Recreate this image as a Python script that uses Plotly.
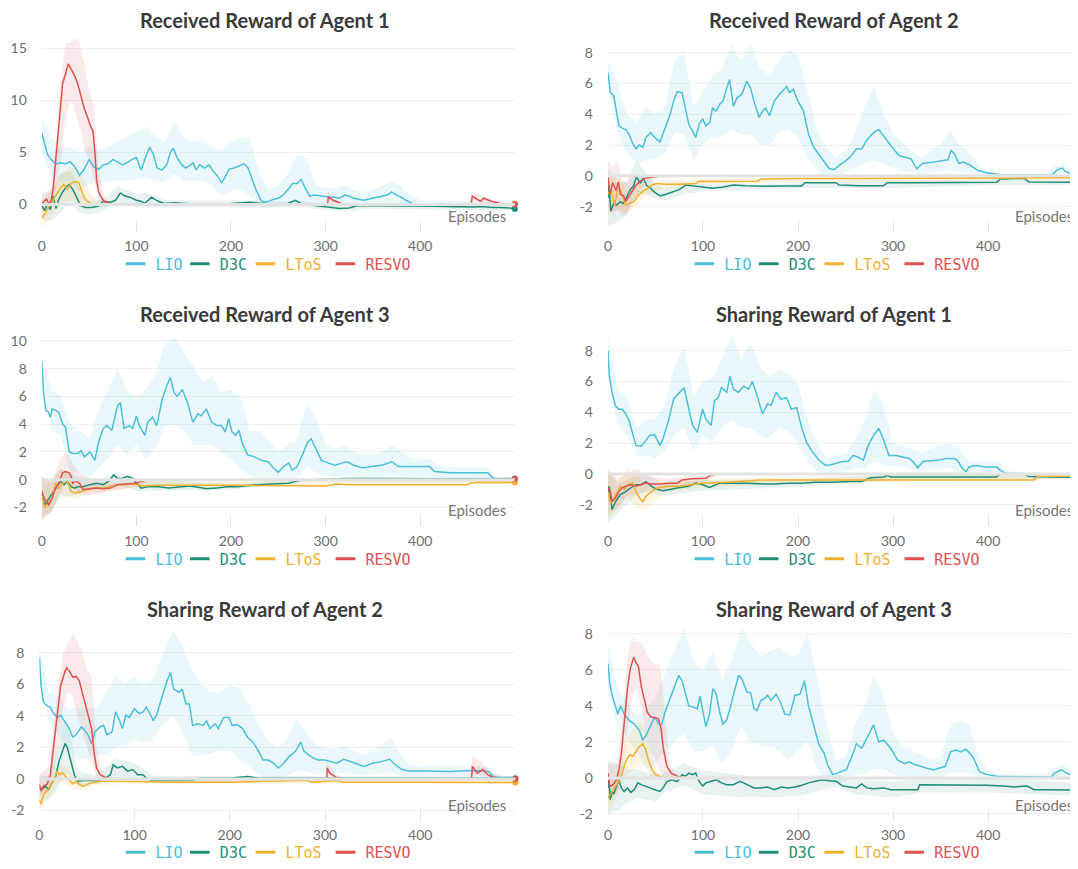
import plotly.graph_objects as go

W, H = 1078, 869
OFF = 8                      # default page margin of the html body
FW, FH = W - OFF, H - OFF    # figure size so that it fills the window exactly

SERIES = ["LIO", "D3C", "LToS", "RESVO"]
LINE_COLORS = ["#4cbfd9", "#1e8e78", "#efb12f", "#e05151"]
BAND_COLORS = ["rgba(76,191,217,0.11)", "rgba(30,142,120,0.10)",
               "rgba(239,177,47,0.14)", "rgba(224,81,81,0.12)"]
LEGEND_WIDTHS = [19.4, 20.6, 35, 45]
TITLES = ["Received Reward of Agent 1", "Received Reward of Agent 2",
          "Received Reward of Agent 3", "Sharing Reward of Agent 1",
          "Sharing Reward of Agent 2", "Sharing Reward of Agent 3"]
X_TICKS = [0, 100, 200, 300, 400]
Y_TICKS = [[0, 5, 10, 15], [-2, 0, 2, 4, 6, 8], [-2, 0, 2, 4, 6, 8, 10],
           [-2, 0, 2, 4, 6, 8], [-2, 0, 2, 4, 6, 8], [-2, 0, 2, 4, 6, 8]]
EP10 = list(range(0, 501, 10))

# ---------------- Panel 1: Received Reward of Agent 1 ----------------
P1_LIO = [(0,6.9),(3,5.8),(6,4.8),(10,4.3),(15,3.9),(20,4.0),(25,3.9),(30,4.1),(35,3.6),(40,2.8),(45,3.4),(50,4.3),(55,3.6),(60,3.4),(65,3.8),(70,3.9),(75,4.3),(80,4.1),(85,3.8),(90,4.0),(95,4.3),(100,4.5),(105,3.3),(110,4.6),(114,5.5),(118,4.8),(122,3.5),(127,3.3),(132,3.8),(136,5.0),(139,5.4),(143,4.5),(148,3.8),(152,3.5),(156,3.7),(160,4.0),(163,3.3),(167,3.8),(172,3.5),(177,3.8),(181,3.2),(186,2.7),(190,2.1),(193,2.5),(198,3.4),(203,3.5),(208,3.7),(214,3.9),(218,3.5),(222,2.5),(226,1.5),(231,0.5),(235,0.2),(240,0.3),(245,0.5),(250,0.6),(255,0.9),(260,1.4),(265,2.0),(270,2.0),(274,2.4),(279,1.5),(283,0.8),(288,0.9),(295,0.8),(300,0.8),(305,0.7),(310,0.7),(315,0.6),(320,0.9),(325,0.8),(330,0.6),(335,0.5),(340,0.4),(345,0.5),(350,0.6),(355,0.7),(365,0.9),(370,1.2),(375,0.9),(380,0.7),(385,0.4),(392,0.1),(400,0.05),(450,0.05),(500,0.05)]
P1_LIO_HI = [8.5,6.5,5.5,5.5,5.0,5.6,5.2,5.5,6.0,6.5,7.0,7.5,6.5,6.0,8.0,6.5,6.0,6.3,5.5,5.2,6.0,6.5,6.3,3.0,1.5,1.8,3.0,4.8,4.5,1.8,1.6,1.5,1.8,1.4,1.2,1.4,1.8,2.2,1.7,0.9,0.4,0.3,0.3,0.3,0.3,0.3,0.3,0.3,0.3,0.3,0.3]
P1_LIO_LO = [5.0,2.8,2.2,2.3,1.3,2.0,2.0,2.2,2.3,2.3,2.4,2.6,2.2,2.2,3.0,2.2,2.3,2.2,1.8,0.8,1.3,1.5,0.8,-0.2,-0.3,-0.2,0.0,0.3,0.0,0.0,-0.1,0.0,0.0,0.0,0.0,0.0,0.0,0.0,0.0,-0.2,-0.2,-0.2,-0.2,-0.2,-0.2,-0.2,-0.2,-0.2,-0.2,-0.2,-0.2]
P1_D3C = [(0,-0.1),(3,-0.6),(6,0.1),(9,-0.5),(12,0.8),(15,-0.4),(18,0.5),(22,1.2),(26,1.7),(29,1.9),(33,1.4),(37,0.7),(41,-0.1),(46,-0.3),(53,-0.3),(60,-0.15),(65,0.3),(72,0.2),(78,0.4),(83,1.1),(88,0.8),(93,0.7),(100,0.4),(105,0.3),(109,0.1),(116,0.7),(123,0.3),(130,0.1),(140,0.15),(160,0.05),(180,0.05),(200,0.1),(220,0.2),(240,0.05),(260,0.1),(268,0.4),(275,0.05),(285,-0.05),(295,-0.15),(305,-0.3),(315,-0.4),(325,-0.35),(332,-0.15),(340,-0.1),(360,-0.15),(380,-0.15),(400,-0.15),(420,-0.2),(440,-0.2),(455,-0.25),(465,-0.2),(475,-0.3),(485,-0.3),(495,-0.35),(500,-0.45)]
P1_D3C_BAND = [(0,-1.5,1.0),(10,-1.6,1.5),(20,-0.8,3.0),(30,0.3,3.2),(40,-0.8,1.5),(50,-1.0,0.3),(60,-0.8,0.4),(70,-0.3,0.8),(80,0.2,1.8),(90,0.0,1.4),(100,-0.3,1.0),(110,-0.3,1.1),(120,-0.3,0.8),(130,-0.3,0.4),(200,-0.3,0.4),(280,-0.3,0.3),(300,-0.5,0.0),(330,-0.6,-0.1),(340,-0.4,0.1),(500,-0.6,-0.2)]
P1_LTOS = [(0,-1.3),(4,-0.8),(8,-0.1),(12,0.5),(16,1.0),(20,1.6),(23,1.9),(27,1.5),(31,2.0),(35,2.2),(39,2.1),(42,1.4),(45,0.6),(48,0.3),(52,0.1),(56,0.05),(60,0.0),(490,0.0),(500,0.1)]
P1_LTOS_BAND = [(0,-2.2,0.0),(10,-1.2,1.0),(20,0.2,3.0),(30,0.3,3.6),(40,0.3,3.4),(50,-0.3,1.2),(60,-0.2,0.3),(100,-0.1,0.1),(500,-0.1,0.1)]
P1_RESVO = [(0,0.1),(3,0.3),(5,0.5),(8,0.0),(10,0.4),(12,1.5),(14,3.5),(16,5.5),(18,7.4),(20,9.5),(22,11.6),(25,12.5),(28,13.5),(31,13.0),(34,12.5),(38,11.6),(42,10.3),(45,9.2),(49,8.2),(52,7.4),(54,7.1),(56,5.2),(58,2.3),(60,1.3),(62,0.8),(66,0.3),(72,0.1),(80,0.0),(302,0.0),(303,0.7),(308,0.4),(313,0.2),(319,0.0),(454,0.0),(455,0.8),(460,0.5),(464,0.3),(466,0.5),(467,0.6),(475,0.3),(485,0.1),(495,0.0),(500,0.0)]
P1_RESVO_BAND = [(0,-0.5,0.5),(10,-0.5,1.5),(15,1.5,6.0),(20,4.0,12.0),(25,8.0,15.5),(30,10.0,15.5),(35,9.0,16.0),(40,7.5,15.5),(45,5.5,13.5),(50,4.0,11.0),(55,2.5,9.5),(60,0.3,3.5),(65,0.0,1.0),(70,0.0,0.3),(80,0.0,0.1),(300,0.0,0.05),(303,0.3,1.2),(312,0.05,0.5),(320,0.0,0.05),(452,0.0,0.05),(455,0.4,1.3),(465,0.2,0.9),(475,0.0,0.5),(490,0.0,0.05),(500,0.0,0.05)]

# ---------------- Panel 2: Received Reward of Agent 2 ----------------
P2_LIO = [(0,6.7),(2.5,5.4),(6,5.2),(10,3.8),(11.5,3.25),(15,3.1),(18.7,3.0),(22,2.7),(26,2.1),(29.5,1.75),(33,2.0),(36.7,1.85),(40,2.5),(45,2.8),(49,2.5),(54.7,2.2),(60,3.1),(65.5,4.0),(69,4.85),(72.7,5.45),(78,5.4),(81.7,4.4),(85,3.35),(89,2.9),(92.4,2.5),(96,3.35),(99.6,3.7),(103,3.25),(107,3.45),(110,4.4),(114,4.2),(117.6,4.65),(121,4.85),(125,5.7),(128,6.25),(132,4.5),(135.6,5.05),(141,5.3),(146,6.15),(150,5.7),(153.6,4.85),(159,3.8),(162.6,4.2),(166,4.4),(170,3.9),(175,4.85),(180.6,5.3),(188,5.8),(191,5.4),(195,5.6),(200,4.85),(205.8,4.2),(211,2.7),(216.5,1.85),(222,1.4),(227,1.0),(232.7,0.47),(238,0.4),(243.5,0.7),(250.7,1.0),(256,1.3),(261.5,1.75),(267,1.75),(272,2.3),(279.5,2.8),(285,3.0),(288.5,2.7),(294,2.2),(299,1.85),(306.5,1.3),(312,1.2),(319,1.1),(325,0.45),(331,0.8),(343,0.9),(353,1.0),(358,1.05),(361,1.65),(365,1.4),(369,0.8),(374,0.9),(381,0.7),(389,0.36),(398,0.2),(405,0.12),(415,0.05),(440,0.05),(465,0.05),(468,0.1),(473,0.4),(478,0.5),(481,0.3),(486,0.15),(492,0.1),(500,0.05)]
P2_LIO_HI = [7.5,6.0,4.0,3.5,4.5,4.0,4.5,7.5,8.0,4.5,5.5,6.5,7.0,8.5,7.5,8.5,7.0,6.5,7.5,8.2,7.8,5.5,3.0,1.8,1.2,1.6,2.8,4.5,5.8,4.0,2.8,2.2,1.6,1.2,1.7,2.0,3.0,2.0,1.5,0.7,0.3,0.15,0.1,0.1,0.1,0.1,0.1,0.6,0.8,0.2,0.1]
P2_LIO_LO = [6.0,2.8,1.5,0.8,1.0,1.1,1.5,2.8,2.7,1.0,2.0,2.5,2.5,3.0,2.7,2.6,2.0,2.0,2.8,3.0,2.5,1.2,0.4,-0.1,-0.2,0.2,0.5,0.8,1.0,0.8,0.5,0.3,0.2,0.0,0.2,0.3,0.4,0.2,0.2,0.0,-0.1,-0.1,-0.1,-0.1,-0.1,-0.1,-0.1,0.0,0.2,-0.1,-0.1]
P2_D3C = [(0,-1.45),(1,-0.6),(3,-2.3),(6,-1.8),(9,-1.9),(13,-1.7),(16.5,-1.8),(20,-1.35),(23.5,-0.9),(27,-0.65),(30,-0.05),(34,-0.5),(37,-0.15),(41,-0.65),(44,-0.75),(49.5,-1.1),(55,-1.3),(61,-1.2),(67,-1.05),(75,-0.9),(82,-0.6),(88,-0.65),(96,-0.7),(103,-0.75),(110,-0.8),(120,-0.75),(132,-0.6),(145,-0.65),(165,-0.68),(185,-0.66),(204,-0.66),(207,-0.45),(225,-0.45),(240,-0.45),(243,-0.6),(265,-0.65),(290,-0.65),(294,-0.45),(320,-0.45),(350,-0.44),(380,-0.43),(409,-0.42),(413,-0.2),(425,-0.17),(438,-0.17),(443,-0.4),(460,-0.42),(480,-0.42),(500,-0.42)]
P2_D3C_BAND = [(0,-3.3,0.5),(10,-3.0,-0.5),(20,-2.6,-0.3),(30,-1.2,1.0),(40,-1.2,0.2),(50,-1.5,-0.6),(60,-1.6,-0.8),(80,-1.2,-0.5),(100,-1.0,-0.5),(200,-0.8,-0.5),(300,-0.8,-0.3),(400,-0.6,-0.25),(500,-0.6,-0.25)]
P2_LTOS = [(0,-1.2),(3,-0.9),(7,-1.9),(10,-1.0),(13,-0.9),(18.5,-1.9),(22,-1.8),(27,-1.7),(32,-1.25),(37,-1.0),(42.5,-0.8),(46,-0.6),(51,-0.5),(61,-0.55),(75,-0.55),(92,-0.5),(96,-0.35),(120,-0.37),(157,-0.35),(161,-0.2),(200,-0.18),(300,-0.17),(350,-0.14),(400,-0.13),(500,-0.13)]
P2_LTOS_BAND = [(0,-2.5,0.0),(10,-2.2,0.0),(20,-2.4,-1.0),(30,-2.0,-0.6),(40,-1.3,-0.4),(60,-0.8,-0.3),(100,-0.5,-0.2),(500,-0.25,-0.05)]
P2_RESVO = [(0,0.0),(2,-1.2),(5,-0.45),(8.5,-0.95),(11,-0.4),(13,-1.2),(16.5,-1.3),(18.5,-1.65),(22,-1.35),(25.5,-0.95),(29,-0.65),(34,-0.35),(39.5,-0.15),(48,-0.07),(58,0.0),(500,0.0)]
P2_RESVO_BAND = [(0,-1.0,1.0),(5,-2.5,0.5),(10,-2.2,1.0),(15,-2.6,-0.3),(20,-2.4,-0.5),(25,-1.8,0.0),(30,-1.3,0.0),(40,-0.5,0.1),(50,-0.2,0.1),(58,-0.05,0.05)]

# ---------------- Panel 3: Received Reward of Agent 3 ----------------
P3_LIO = [(0,8.5),(1.8,6.3),(4.4,5.0),(7.3,4.85),(9,4.5),(11,5.1),(14.5,5.0),(18,4.85),(22,4.0),(25,3.8),(29,2.0),(32.6,1.9),(38,1.9),(41.7,2.1),(45,1.65),(51,2.0),(56,1.4),(60,2.7),(65,3.7),(69,3.9),(74,3.55),(80,5.3),(83,5.55),(87,3.7),(92.5,3.9),(96,3.7),(100,4.6),(103,3.9),(109,3.2),(112,4.15),(117,4.5),(121.5,3.9),(127,5.7),(132,6.75),(136,7.35),(139.6,6.3),(143,6.0),(148.7,6.5),(154,5.55),(159.6,4.15),(165,4.75),(168.6,4.6),(174,5.1),(179.5,4.15),(185,3.9),(190,3.9),(194,3.45),(197.6,4.4),(201,3.45),(205,3.2),(208.5,3.55),(212,2.6),(217.6,1.8),(225,1.65),(232,1.4),(239,1.3),(245,0.85),(250,0.55),(255.6,0.95),(261,1.2),(264.7,0.7),(270,0.95),(275.6,1.8),(281,2.7),(284.7,2.95),(290,2.25),(295.6,1.4),(303,1.2),(310,1.05),(317,1.2),(322.7,1.3),(330,1.05),(339,0.85),(348,0.95),(359,1.05),(370,1.3),(377,0.95),(388,0.95),(399,0.95),(410,0.95),(415,0.6),(431.6,0.5),(450,0.5),(471.5,0.5),(475,0.25),(478.7,0.07),(490,0.05),(500,0.05)]
P3_LIO_HI = [9.0,6.5,6.0,4.0,3.5,3.0,5.0,6.5,8.0,6.5,6.0,6.5,7.5,9.8,10.3,9.2,8.2,7.0,7.5,6.3,6.5,6.0,3.5,3.5,2.8,2.0,2.5,3.0,5.5,4.5,2.5,2.2,2.5,2.0,1.8,1.8,2.0,2.5,2.0,1.6,1.5,1.5,1.0,0.9,0.9,0.9,0.9,0.9,0.2,0.1,0.1]
P3_LIO_LO = [7.5,3.5,3.2,0.5,0.5,0.2,0.8,1.5,2.5,1.8,2.5,1.5,2.2,3.8,4.0,3.5,2.5,2.5,2.5,2.0,1.5,0.8,0.3,0.0,-0.1,-0.1,0.0,0.0,1.0,0.5,0.3,0.2,0.3,0.2,0.1,0.2,0.2,0.3,0.2,0.2,0.2,0.2,0.1,0.05,0.05,0.05,0.05,0.05,-0.05,-0.05,-0.05]
P3_D3C = [(0,-0.85),(3,-1.8),(5.4,-1.55),(9,-1.2),(12.7,-0.85),(16,-0.5),(20,-0.1),(23.6,-0.35),(27,-0.1),(31,-0.5),(34.5,-0.6),(38,-0.5),(43.5,-0.5),(51,-0.35),(58,-0.25),(65,-0.35),(70.7,-0.1),(76,0.35),(80,0.1),(85,0.1),(90.7,0.25),(96,0.1),(100,-0.25),(105,-0.6),(112,-0.5),(123,-0.5),(134,-0.6),(145,-0.5),(156,-0.45),(167,-0.55),(174,-0.65),(185,-0.6),(196,-0.5),(207,-0.5),(217.6,-0.4),(228.5,-0.35),(243,-0.3),(261,-0.25),(268,-0.1),(275.6,-0.02),(286.5,0.0),(320,0.1),(370,0.1),(420,0.05),(470,0.05),(500,0.1)]
P3_D3C_BAND = [(0,-2.8,0.2),(10,-2.3,0.0),(20,-1.2,0.8),(30,-1.2,0.5),(40,-1.0,0.2),(60,-0.6,0.0),(80,-0.3,0.6),(100,-0.8,0.1),(200,-0.7,-0.3),(280,-0.15,0.1),(500,-0.1,0.2)]
P3_LTOS = [(0,-1.05),(3,-2.0),(5.4,-1.8),(11,-1.3),(14.5,-0.25),(18,-0.6),(22,-0.25),(27,-0.1),(31,-0.85),(36,-0.95),(41.7,-0.85),(47,-0.7),(54,-0.6),(65,-0.6),(80,-0.35),(100,-0.3),(105,-0.45),(123,-0.4),(200,-0.4),(279,-0.4),(286,-0.45),(300,-0.45),(312,-0.3),(323,-0.35),(400,-0.35),(450,-0.35),(453,-0.25),(460,-0.17),(500,-0.2)]
P3_LTOS_BAND = [(0,-2.6,0.2),(10,-2.4,-0.2),(20,-1.0,0.8),(30,-1.3,0.5),(40,-1.3,-0.4),(60,-0.9,-0.3),(100,-0.5,-0.15),(500,-0.3,-0.05)]
P3_RESVO = [(0,-0.85),(3,-1.4),(7.3,-1.8),(11,-1.3),(14.5,-0.6),(18,-0.25),(22,0.5),(25,0.6),(29,0.5),(31,0.25),(32.6,-0.25),(36,-0.1),(40,-0.25),(43.5,-0.7),(51,-0.65),(58,-0.6),(65,-0.65),(72.5,-0.6),(80,-0.35),(90.7,-0.3),(100,-0.25),(105,-0.1),(112,0.0),(490,0.0),(500,0.05)]
P3_RESVO_BAND = [(0,-2.9,0.2),(10,-2.3,-0.2),(20,-0.8,1.5),(25,-0.3,2.0),(30,-0.3,1.5),(40,-1.0,0.5),(60,-1.0,-0.2),(100,-0.5,-0.1),(115,-0.1,0.1)]

# ---------------- Panel 4: Sharing Reward of Agent 1 ----------------
P4_LIO = [(0,8.0),(1.4,6.35),(4.3,5.3),(8,4.4),(11.5,4.2),(15,4.2),(18.7,3.9),(22.3,3.45),(26,2.6),(29.5,1.85),(35,1.8),(38.5,2.05),(44,2.5),(49,2.55),(54.7,1.85),(58,2.3),(63.7,3.45),(69,4.85),(74.5,5.2),(80,5.6),(83.5,4.65),(89,3.15),(94,2.7),(99.6,4.2),(103,3.55),(108.6,3.15),(112,4.75),(116,4.95),(119.4,5.6),(125,5.3),(128.4,6.35),(132,5.5),(137,5.3),(143,5.7),(148,5.5),(152,6.0),(157,5.05),(162.6,3.9),(168,4.55),(171.6,4.45),(177,5.3),(182,4.85),(188,4.95),(193,4.2),(198.6,4.3),(204,2.95),(209,2.05),(215,1.45),(222,0.9),(229,0.55),(234.5,0.6),(240,0.7),(247,0.8),(252.5,0.8),(258,1.2),(263,1.1),(268.7,0.9),(274,1.85),(279.5,2.5),(285,2.95),(290,2.2),(295.7,1.2),(303,1.2),(310,1.1),(317,1.0),(321,0.8),(326,0.4),(331.6,0.8),(340.6,0.85),(348,0.9),(357,1.0),(364,1.0),(367.6,0.9),(373,0.35),(376.6,0.15),(380,0.45),(387,0.55),(398,0.45),(409,0.45),(412.6,0.25),(418,0.04),(450,0.0),(500,0.0)]
P4_LIO_HI = [9.0,5.5,5.0,3.0,3.5,3.6,4.5,7.0,8.3,5.0,6.0,6.2,7.5,9.0,7.5,8.5,7.0,6.3,6.8,6.5,5.8,3.5,2.0,1.0,1.2,1.3,2.2,3.5,5.5,4.5,2.0,1.8,1.6,1.4,1.6,1.9,2.0,1.6,0.8,0.8,0.8,0.8,0.2,0.1,0.1,0.1,0.1,0.1,0.1,0.1,0.1]
P4_LIO_LO = [6.5,3.2,2.5,1.2,1.2,1.0,1.5,2.5,3.0,1.5,2.5,2.0,3.0,3.5,3.0,3.0,2.5,2.3,3.0,2.8,2.0,0.8,0.2,-0.1,0.0,0.2,0.4,0.3,0.8,0.6,0.5,0.5,0.3,0.2,0.3,0.3,0.4,0.0,0.1,0.2,0.1,0.1,-0.1,-0.1,-0.1,-0.1,-0.1,-0.1,-0.1,-0.1,-0.1]
P4_D3C = [(0,-1.25),(1.4,-0.8),(4.3,-2.3),(8,-1.8),(13,-1.35),(18.7,-1.15),(24,-0.9),(29.5,-0.7),(35,-0.7),(40,-0.5),(45.7,-0.8),(51,-1.0),(58,-1.1),(65.5,-1.0),(74.5,-0.9),(85,-0.8),(92.5,-0.6),(99.6,-0.7),(107,-0.88),(117.6,-0.6),(132,-0.6),(146.4,-0.6),(164.4,-0.65),(175,-0.65),(189.6,-0.6),(204,-0.6),(218,-0.55),(236,-0.55),(254,-0.5),(267,-0.5),(276,-0.25),(290,-0.2),(294,-0.1),(297.5,-0.2),(326,-0.2),(362,-0.2),(409,-0.2),(412.6,0.0),(437.8,0.0),(443,-0.17),(470,-0.22),(500,-0.23)]
P4_D3C_BAND = [(0,-3.2,0.2),(10,-2.6,-0.6),(20,-1.9,-0.4),(30,-1.4,-0.1),(40,-1.2,0.0),(60,-1.4,-0.7),(100,-1.1,-0.4),(200,-0.85,-0.35),(300,-0.4,-0.05),(500,-0.35,-0.1)]
P4_LTOS = [(0,-1.15),(2.5,-1.9),(6,-1.65),(9.7,-1.25),(13,-0.8),(17,-1.0),(20.5,-0.7),(26,-0.6),(29.5,-1.15),(33,-1.55),(36.7,-1.8),(40,-1.45),(45.7,-1.15),(53,-0.9),(63.7,-0.8),(74.5,-0.8),(85,-0.7),(99.6,-0.6),(125,-0.55),(161,-0.4),(200,-0.4),(267,-0.4),(290,-0.4),(350,-0.4),(448.6,-0.4),(452,-0.15),(500,-0.15)]
P4_LTOS_BAND = [(0,-2.8,0.2),(10,-2.2,-0.5),(20,-1.5,0.3),(30,-2.2,0.0),(40,-2.3,-0.8),(60,-1.2,-0.5),(100,-0.9,-0.35),(200,-0.6,-0.2),(500,-0.3,0.0)]
P4_RESVO = [(0,-0.9),(2.5,-1.15),(4.3,-1.8),(8,-1.55),(11.5,-1.15),(15,-0.9),(18.7,-0.8),(24,-0.7),(29.5,-0.8),(35,-0.7),(40,-0.6),(45.7,-0.65),(54.7,-0.65),(63.7,-0.6),(72.7,-0.6),(78,-0.4),(89,-0.32),(103,-0.28),(108.6,-0.07),(114,0.0),(500,0.0)]
P4_RESVO_BAND = [(0,-2.6,0.3),(10,-2.3,-0.3),(20,-1.4,0.0),(30,-1.3,0.3),(40,-1.1,-0.1),(60,-1.0,-0.3),(100,-0.5,-0.1),(115,-0.1,0.1)]

# ---------------- Panel 5: Sharing Reward of Agent 2 ----------------
P5_LIO = [(0,7.7),(1.8,5.9),(4.3,4.85),(8,4.65),(11.5,4.55),(15,4.15),(18.7,3.9),(22.3,4.05),(26,3.7),(31.4,3.2),(35,2.65),(38.6,2.8),(44,3.3),(47.6,3.1),(51,2.8),(54.8,2.25),(58.4,3.0),(63.8,3.3),(67.4,3.4),(71,2.8),(76.4,3.0),(80,4.25),(83.6,3.8),(87.2,3.2),(90.8,4.05),(94.4,3.9),(99.8,4.45),(105,4.15),(108.8,4.25),(112.4,4.55),(116,4.15),(119.6,3.7),(123,4.05),(127,4.85),(130.5,5.5),(134,6.2),(137.7,6.75),(141,5.7),(146.7,5.5),(150,5.7),(153.9,4.75),(157.5,4.75),(161,3.4),(166.5,3.5),(172,3.4),(175.5,3.7),(179,3.2),(184.5,3.5),(188,3.2),(193.5,3.9),(199,3.9),(202.5,3.4),(208,3.45),(213.3,3.2),(218.7,2.65),(224,2.35),(229.5,1.85),(235,1.2),(240.4,1.2),(245.8,1.0),(251,0.7),(256.6,1.0),(262,1.4),(269,1.75),(274.6,2.35),(278,1.75),(285.4,1.4),(292.6,1.2),(299.8,1.2),(307,1.1),(312.4,1.0),(319.6,1.25),(326.8,1.1),(336,0.9),(341,0.8),(350,1.0),(359,1.1),(368,1.25),(373.7,0.9),(381,0.6),(388,0.5),(406,0.5),(431,0.48),(449,0.52),(467,0.52),(472.4,0.45),(476,0.17),(481.6,0.1),(500,0.1)]
P5_LIO_HI = [8.3,5.5,5.2,4.4,4.5,4.5,4.5,5.5,6.5,6.0,6.5,6.0,6.5,8.0,9.4,8.5,7.0,6.0,5.5,5.5,6.0,5.7,4.8,3.5,2.5,2.0,2.5,3.8,3.0,2.2,2.0,1.9,2.1,1.8,1.5,1.8,2.2,2.6,1.5,0.9,0.8,0.8,0.8,0.8,0.8,0.8,0.8,0.8,0.3,0.2,0.2]
P5_LIO_LO = [7.0,3.5,2.8,2.0,1.2,1.3,1.5,1.5,2.0,2.0,2.5,2.2,2.5,3.5,4.0,3.0,1.5,1.5,1.6,1.8,1.8,1.2,0.8,0.3,0.0,-0.1,0.2,0.5,0.5,0.3,0.3,0.3,0.4,0.3,0.2,0.3,0.3,0.4,0.2,0.2,0.2,0.2,0.2,0.2,0.2,0.2,0.2,0.2,-0.05,-0.05,-0.05]
P5_D3C = [(0,-0.55),(2.5,-0.65),(6,-0.45),(9.7,-0.65),(13.3,-0.25),(17,0.15),(20.5,1.1),(24,1.75),(27,2.25),(29.5,1.95),(33,1.1),(36.8,0.25),(40.4,-0.15),(45.8,-0.1),(53,-0.1),(60,-0.1),(67.4,-0.02),(74.6,0.27),(77.5,0.9),(81.8,0.7),(87.2,0.8),(92.6,0.5),(98,0.6),(103.4,0.27),(108.8,0.27),(112.4,0.05),(117.8,-0.1),(136,-0.1),(161,-0.08),(168,0.05),(200,0.05),(218.7,0.15),(230,0.05),(300,0.05),(400,0.05),(500,0.05)]
P5_D3C_BAND = [(0,-1.3,0.2),(10,-1.3,0.2),(20,-0.6,2.0),(25,0.3,3.8),(30,0.3,3.5),(40,-0.4,0.5),(60,-0.3,0.2),(80,0.1,1.3),(100,0.0,1.0),(120,-0.2,0.2),(500,-0.1,0.15)]
P5_LTOS = [(0,-1.3),(1.8,-1.6),(4.3,-1.0),(8,-0.75),(11.5,-0.45),(15,-0.05),(18.7,0.5),(21,0.27),(24,0.4),(27.7,0.15),(31.4,-0.05),(35,-0.3),(38.6,-0.15),(42,-0.35),(45.8,-0.45),(51,-0.35),(56.6,-0.2),(67.4,-0.15),(89,-0.15),(143,-0.2),(200,-0.2),(280,-0.08),(287,-0.2),(312,-0.1),(319.6,-0.2),(400,-0.2),(500,-0.22)]
P5_LTOS_BAND = [(0,-2.0,-0.6),(10,-1.2,-0.2),(20,-0.2,1.0),(30,-0.4,0.6),(40,-0.7,0.0),(60,-0.4,0.0),(100,-0.3,-0.05),(500,-0.3,-0.1)]
P5_RESVO = [(0,-0.35),(1.8,-0.75),(4.3,-0.45),(8,-0.35),(11.5,0.27),(15,2.15),(18.7,4.05),(22.3,5.9),(26,6.65),(28.5,7.05),(31.4,6.85),(35,6.45),(38.6,6.5),(42,6.2),(45.8,5.3),(49.4,4.45),(52,3.9),(54.8,3.2),(57.3,1.75),(60,0.7),(63.8,0.27),(69,0.1),(76.4,0.0),(302,0.0),(302.3,0.7),(305,0.37),(312,0.1),(320,0.0),(454,0.0),(454.8,0.8),(460,0.37),(465.6,0.6),(471,0.27),(478,0.05),(490,0.0),(500,0.0)]
P5_RESVO_BAND = [(0,-1.0,0.3),(10,-0.8,0.8),(15,0.5,3.5),(20,2.0,6.0),(25,4.5,8.0),(30,5.5,8.6),(35,5.2,9.2),(40,4.0,8.8),(45,3.0,8.0),(50,2.0,7.0),(55,1.0,6.5),(60,0.2,2.0),(65,0.0,0.6),(70,-0.05,0.2),(80,0.0,0.05),(300,0.0,0.05),(302,0.3,1.2),(310,0.0,0.4),(320,0.0,0.05),(452,0.0,0.05),(455,0.3,1.5),(465,0.2,1.0),(475,0.0,0.4),(490,0.0,0.05)]

# ---------------- Panel 6: Sharing Reward of Agent 3 ----------------
P6_LIO = [(0,6.35),(1.8,5.3),(4.3,4.6),(8,3.95),(10.4,3.55),(13.3,4.0),(17,3.55),(22.3,3.2),(27.7,3.0),(33,2.65),(36.7,2.1),(40.3,2.4),(45.7,2.95),(49.3,3.4),(53,3.0),(56.5,2.95),(60,3.65),(63.7,4.2),(69,4.95),(74.5,5.7),(78,5.4),(81.7,4.6),(85,4.0),(88.8,3.95),(94,3.85),(96.8,4.55),(99.6,3.75),(103,2.85),(106.8,3.55),(110.4,4.95),(114,4.65),(117.6,3.65),(121,3.0),(124.8,3.2),(128.4,3.85),(133.8,4.95),(137.4,5.7),(141,5.5),(146.4,4.75),(150,4.75),(153.6,3.85),(157,3.75),(160.8,4.3),(164.4,4.4),(168,4.6),(171.6,4.3),(177,4.65),(182.4,4.1),(186,3.55),(191.4,3.5),(196.8,4.6),(202,4.65),(206.8,5.4),(211,4.0),(216.5,2.95),(222,1.85),(227.3,1.4),(231,0.75),(236.3,0.2),(241.7,0.27),(247,0.4),(250.7,0.45),(256,1.1),(261.5,1.9),(267,1.65),(272.3,2.2),(279.5,2.95),(285,2.0),(290.3,2.1),(297.5,1.65),(304.7,1.0),(312,0.8),(317,0.9),(322.7,0.75),(328,0.65),(335,0.55),(342.4,0.45),(349.6,0.55),(355,0.65),(360.4,1.45),(366,1.55),(371,1.45),(376.6,1.6),(383.8,1.2),(391,0.35),(398,0.2),(409,0.1),(434,0.07),(466.5,0.05),(470,0.27),(477,0.45),(485,0.2),(494.6,0.1),(500,0.1)]
P6_LIO_HI = [7.5,5.0,4.2,3.5,3.8,4.5,5.8,7.0,8.3,6.5,6.0,7.0,5.5,6.5,8.3,7.5,6.8,7.0,7.3,6.8,6.8,8.1,5.5,3.0,1.0,1.2,3.0,4.0,5.7,4.5,2.5,1.8,1.5,1.3,1.0,1.2,3.0,3.2,3.0,1.2,0.4,0.2,0.2,0.2,0.2,0.2,0.2,0.5,0.8,0.3,0.2]
P6_LIO_LO = [5.0,2.8,2.2,1.5,0.5,0.8,1.5,2.0,2.5,1.5,1.5,1.8,0.8,1.5,2.8,2.0,1.8,1.8,1.5,1.0,1.5,2.0,0.5,-0.1,-0.3,-0.2,0.2,0.2,0.5,0.5,0.2,0.1,0.0,0.0,0.0,0.0,0.3,0.3,0.3,-0.1,-0.1,-0.1,-0.1,-0.1,-0.1,-0.1,-0.1,-0.1,-0.1,-0.1,-0.1]
P6_D3C = [(0,-0.55),(1,-0.1),(2.5,-1.2),(4.3,-0.75),(6,-0.9),(9,-0.45),(11.5,-0.1),(14,-0.55),(17,-0.75),(20.5,-0.55),(24,-0.8),(27.7,-0.65),(31.3,-0.27),(35,-0.37),(38.5,-0.45),(44,-0.55),(49.3,-0.65),(54.7,-0.75),(58,-0.55),(62,-0.2),(67,-0.1),(72.7,-0.2),(78,0.18),(81.7,0.1),(85,0.27),(88.8,0.18),(92.4,0.27),(96,-0.18),(99.6,-0.45),(103,-0.27),(108.6,-0.18),(114,-0.1),(119.4,-0.27),(124.8,-0.37),(132,-0.37),(139,-0.18),(146.4,-0.37),(153.6,-0.55),(160.8,-0.55),(168,-0.5),(175,-0.65),(182.4,-0.5),(189.6,-0.55),(196.8,-0.5),(204,-0.4),(211,-0.27),(218.3,-0.18),(225.5,-0.1),(232.7,-0.15),(240,-0.18),(247,-0.45),(254,-0.5),(261.5,-0.55),(267,-0.33),(272.3,-0.55),(279.5,-0.6),(290.3,-0.55),(297.5,-0.65),(312,-0.65),(326,-0.65),(328,-0.37),(344,-0.37),(362,-0.4),(380,-0.37),(398,-0.4),(416,-0.45),(427,-0.5),(441,-0.45),(448.6,-0.65),(463,-0.65),(477,-0.65),(494.6,-0.68),(500,-0.68)]
P6_D3C_BAND = [(0,-2.0,1.0),(10,-1.8,0.8),(20,-1.4,0.5),(30,-1.1,0.5),(40,-1.2,0.3),(50,-1.3,0.2),(60,-0.8,0.3),(80,-0.4,0.8),(100,-0.9,0.4),(150,-1.1,0.1),(200,-1.0,0.1),(240,-0.5,0.2),(260,-0.9,-0.1),(300,-1.1,-0.2),(330,-0.8,0.0),(400,-0.8,0.0),(440,-0.9,-0.1),(500,-1.0,-0.3)]
P6_LTOS = [(0,-1.1),(2.5,-0.9),(4.3,-0.75),(7,-0.55),(9.7,-0.37),(12.6,-0.1),(15,0.27),(17.6,0.75),(20.5,1.1),(23.4,1.3),(26,1.2),(29.5,1.45),(33,1.75),(36.7,1.9),(39.2,1.65),(42,1.1),(45.7,0.55),(49.3,0.22),(54.7,0.07),(60,0.04),(65,0.0),(500,0.0)]
P6_LTOS_BAND = [(0,-2.0,-0.2),(10,-1.0,0.3),(15,-0.3,1.0),(20,0.2,2.2),(25,0.4,2.6),(30,0.6,2.9),(35,0.8,3.2),(40,0.6,2.8),(45,0.1,1.5),(50,-0.1,0.6),(55,-0.1,0.2),(60,-0.05,0.1)]
P6_RESVO = [(0,0.27),(1.4,-0.37),(3.6,-0.45),(6,-0.33),(9,-0.1),(11.5,0.45),(14,1.3),(17,3.1),(20.5,4.95),(23.4,6.05),(27,6.7),(29.5,6.4),(32,6.2),(35,5.1),(37.8,4.5),(41.4,3.65),(45,3.4),(49.3,3.35),(53,3.3),(55.8,2.75),(58.3,1.65),(62,0.65),(66.5,0.27),(72.7,0.1),(78,0.0),(500,0.0)]
P6_RESVO_BAND = [(0,-1.0,0.8),(10,-0.8,0.8),(15,0.2,3.0),(20,2.5,6.5),(25,4.5,7.8),(30,5.0,7.6),(35,4.0,7.5),(40,2.5,7.0),(45,1.5,6.5),(50,1.0,6.3),(55,0.3,6.3),(60,0.0,3.5),(65,-0.1,0.8),(70,-0.1,0.3),(80,0.0,0.1)]

# ---------------- assemble ----------------
def grid_band(lo, hi):
    assert len(lo) == len(EP10) and len(hi) == len(EP10)
    return list(zip(EP10, lo, hi))

PANEL_DATA = [
    ([P1_LIO, P1_D3C, P1_LTOS, P1_RESVO],
     [grid_band(P1_LIO_LO, P1_LIO_HI), P1_D3C_BAND, P1_LTOS_BAND, P1_RESVO_BAND]),
    ([P2_LIO, P2_D3C, P2_LTOS, P2_RESVO],
     [grid_band(P2_LIO_LO, P2_LIO_HI), P2_D3C_BAND, P2_LTOS_BAND, P2_RESVO_BAND]),
    ([P3_LIO, P3_D3C, P3_LTOS, P3_RESVO],
     [grid_band(P3_LIO_LO, P3_LIO_HI), P3_D3C_BAND, P3_LTOS_BAND, P3_RESVO_BAND]),
    ([P4_LIO, P4_D3C, P4_LTOS, P4_RESVO],
     [grid_band(P4_LIO_LO, P4_LIO_HI), P4_D3C_BAND, P4_LTOS_BAND, P4_RESVO_BAND]),
    ([P5_LIO, P5_D3C, P5_LTOS, P5_RESVO],
     [grid_band(P5_LIO_LO, P5_LIO_HI), P5_D3C_BAND, P5_LTOS_BAND, P5_RESVO_BAND]),
    ([P6_LIO, P6_D3C, P6_LTOS, P6_RESVO],
     [grid_band(P6_LIO_LO, P6_LIO_HI), P6_D3C_BAND, P6_LTOS_BAND, P6_RESVO_BAND]),
]

# layout geometry (window pixels)
PANELS = [
    dict(x0=37.9, x1=512.7, xmax=500, top=36, bot=232, yr=(-2.59, 16.02), tcx=262.4, tcy=18.3, lcy=265),
    dict(x0=606.2, x1=1078, xmax=494.6, top=36, bot=232, yr=(-3.61, 8.97), tcx=833.4, tcy=18.3, lcy=265),
    dict(x0=37.9, x1=512.7, xmax=500, top=333.7, bot=529.7, yr=(-3.30, 10.64), tcx=262.4, tcy=315.7, lcy=563.5),
    dict(x0=606.2, x1=1078, xmax=494.6, top=333.7, bot=529.7, yr=(-3.36, 9.22), tcx=833.4, tcy=315.7, lcy=563.5),
    dict(x0=35.5, x1=513.3, xmax=500, top=632, bot=828, yr=(-2.63, 9.65), tcx=262.4, tcy=614, lcy=860.5),
    dict(x0=606.2, x1=1078, xmax=494.6, top=632, bot=828, yr=(-2.36, 8.40), tcx=833.4, tcy=614, lcy=860.5),
]


def px(x):
    return min(max((x - OFF) / FW, 0.0), 1.0)


def py(y):
    return min(max(1 - (y - OFF) / FH, 0.0), 1.0)


TICK_FONT = dict(family="Lato", size=14, color="#6e6e6e")

fig = go.Figure()
annotations, shapes, layout_upd = [], [], {}

for i, (p, (lines, bands)) in enumerate(zip(PANELS, PANEL_DATA), start=1):
    sfx = "" if i == 1 else str(i)
    xa, ya, lg = "x" + sfx, "y" + sfx, "legend" + sfx

    for k, band in enumerate(bands):
        bx = [b[0] for b in band]
        lo = [b[1] for b in band]
        hi = [b[2] for b in band]
        fig.add_trace(go.Scatter(x=bx + bx[::-1], y=hi + lo[::-1], fill="toself",
                                 fillcolor=BAND_COLORS[k], line=dict(width=0),
                                 mode="lines", hoverinfo="skip", showlegend=False,
                                 xaxis=xa, yaxis=ya))
    for k, pts in enumerate(lines):
        fig.add_trace(go.Scatter(x=[q[0] for q in pts], y=[q[1] for q in pts], mode="lines",
                                 line=dict(color=LINE_COLORS[k], width=1.5),
                                 showlegend=False, xaxis=xa, yaxis=ya))
    for k in (1, 2, 3):
        last = lines[k][-1]
        fig.add_trace(go.Scatter(x=[last[0]], y=[last[1]], mode="markers",
                                 marker=dict(color=LINE_COLORS[k], size=6),
                                 cliponaxis=False, showlegend=False, hoverinfo="skip",
                                 xaxis=xa, yaxis=ya))
    for k, name in enumerate(SERIES):
        c = LINE_COLORS[k]
        fig.add_trace(go.Scatter(x=[None], y=[None], mode="markers",
                                 marker=dict(symbol="line-ew", size=14, color=c,
                                             line=dict(width=3, color=c)),
                                 name=f"<span style='color:{c}'>{name}</span>",
                                 legend=lg, legendwidth=LEGEND_WIDTHS[k],
                                 showlegend=True, xaxis=xa, yaxis=ya))

    yt = Y_TICKS[i - 1]
    layout_upd["xaxis" + sfx] = dict(
        domain=[px(p["x0"]), px(p["x1"])], range=[0, p["xmax"]], anchor=ya,
        tickvals=X_TICKS, ticktext=[str(v) for v in X_TICKS], ticks="inside", ticklen=10,
        tickcolor="#e2e2e2", tickwidth=1, showgrid=False, zeroline=False, showline=False,
        tickfont=TICK_FONT, ticklabelstandoff=5, fixedrange=True)
    layout_upd["yaxis" + sfx] = dict(
        domain=[py(p["bot"]), py(p["top"])], range=list(p["yr"]), anchor=xa,
        tickvals=yt, ticktext=[str(v) for v in yt], ticks="", showgrid=True,
        gridcolor="#f0f0f0", gridwidth=1, zeroline=False, showline=False,
        tickfont=TICK_FONT, ticklabelstandoff=14, fixedrange=True)
    layout_upd[lg] = dict(orientation="h", x=px(p["tcx"]), xanchor="center",
                          y=py(p["lcy"]), yanchor="middle",
                          font=dict(family="DejaVu Sans Mono", size=15),
                          bgcolor="rgba(0,0,0,0)", itemclick=False, itemdoubleclick=False)

    shapes.append(dict(type="line", xref=f"{xa} domain", x0=0, x1=1, yref=ya, y0=0, y1=0,
                       line=dict(color="#e3e3e3", width=3), layer="above"))
    annotations.append(dict(text=f"<b>{TITLES[i - 1]}</b>", xref="paper", yref="paper",
                            x=px(p["tcx"]), y=py(p["tcy"]), xanchor="center", yanchor="middle",
                            showarrow=False, font=dict(family="Lato", size=20, color="#3a3a3a")))
    ep_right = 506 if p["x1"] < 600 else 1075
    annotations.append(dict(text="Episodes", xref="paper", yref="paper",
                            x=px(ep_right), y=py(p["bot"] - 15.5),
                            xanchor="right", yanchor="middle", showarrow=False,
                            font=dict(family="Lato", size=15, color="#777777")))

fig.update_layout(**layout_upd)
fig.update_layout(width=FW, height=FH, margin=dict(l=0, r=0, t=0, b=0),
                  paper_bgcolor="white", plot_bgcolor="white",
                  annotations=annotations, shapes=shapes, showlegend=True,
                  font=dict(family="Lato"))

fig.write_html("out.html")
